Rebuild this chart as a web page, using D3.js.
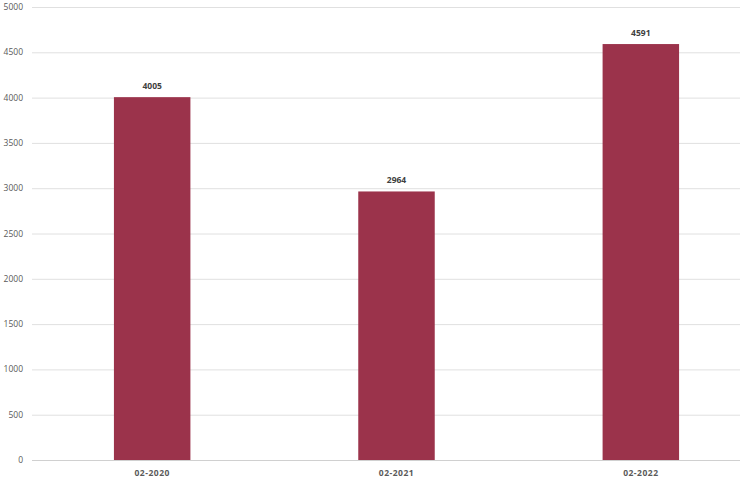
<!DOCTYPE html>
<html><head><meta charset="utf-8">
<script src="https://cdn.jsdelivr.net/npm/d3@7"></script>
<style>body{margin:0;background:#fff}svg{display:block}</style>
</head><body>
<svg id="c" width="740" height="480"></svg>
<script>
const categories = ["02-2020", "02-2021", "02-2022"];
const values = [4005, 2964, 4591];
const yTicks = [0, 500, 1000, 1500, 2000, 2500, 3000, 3500, 4000, 4500, 5000];

const svg = d3.select("#c");
const x = d3.scaleBand().domain(categories).range([30, 763]).paddingInner(0.687).paddingOuter(0.3435);
const y = d3.scaleLinear().domain([0, 5000]).range([460, 7]);
const font = "'Open Sans', 'DejaVu Sans', sans-serif";

const g = svg.append("g");
g.selectAll("line.grid").data(yTicks).enter().append("line")
  .attr("x1", 32).attr("x2", 740)
  .attr("y1", d => y(d) + 0.5).attr("y2", d => y(d) + 0.5)
  .attr("stroke", d => d === 0 ? "#d0d0d0" : "#e0e0e0").attr("stroke-width", 1);

g.selectAll("text.yt").data(yTicks).enter().append("text")
  .attr("x", 23).attr("y", d => y(d) + 3)
  .attr("text-anchor", "end").attr("font-family", font).attr("font-size", 8.5)
  .attr("fill", "#595959").text(d => d);

g.selectAll("rect").data(values).enter().append("rect")
  .attr("x", (d, i) => x(categories[i]))
  .attr("y", d => y(d))
  .attr("width", x.bandwidth())
  .attr("height", d => y(0) - y(d))
  .attr("fill", "#9b334b");

g.selectAll("text.val").data(values).enter().append("text")
  .attr("x", (d, i) => x(categories[i]) + x.bandwidth() / 2)
  .attr("y", d => y(d) - 8)
  .attr("text-anchor", "middle").attr("font-family", font).attr("font-size", 8.5)
  .attr("font-weight", "bold").attr("fill", "#404040").text(d => d);

g.selectAll("text.xt").data(categories).enter().append("text")
  .attr("x", d => x(d) + x.bandwidth() / 2)
  .attr("y", 476)
  .attr("text-anchor", "middle").attr("font-family", font).attr("font-size", 8.5)
  .attr("font-weight", "bold").attr("fill", "#595959").attr("letter-spacing", 0.5).text(d => d);
</script>
</body></html>
